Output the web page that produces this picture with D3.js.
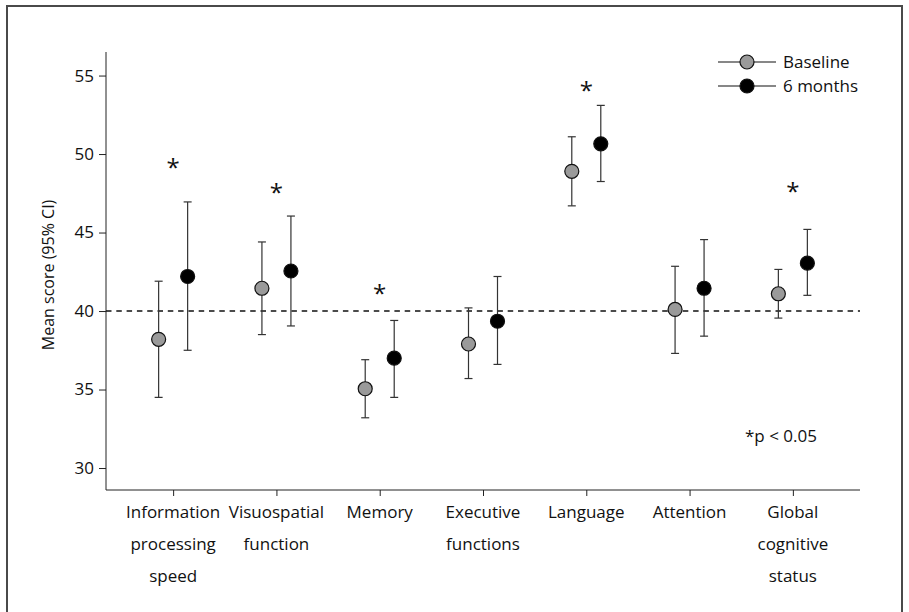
<!DOCTYPE html>
<html>
<head>
<meta charset="utf-8">
<script src="https://cdn.jsdelivr.net/npm/d3@7"></script>
<style>
  body { margin: 0; background: #fff; }
  text { font-family: "Open Sans", "Noto Sans", sans-serif; fill: #111; }
</style>
</head>
<body>
<div id="chart"></div>
<script>
// categories (x axis), each label split in lines
const categories = ["Information processing speed", "Visuospatial function", "Memory",
  "Executive functions", "Language", "Attention", "Global cognitive status"];
const labelLines = [["Information", "processing", "speed"], ["Visuospatial", "function"], ["Memory"],
  ["Executive", "functions"], ["Language"], ["Attention"], ["Global", "cognitive", "status"]];

// mean scores and 95% CI
const baselineMean = [38.2, 41.45, 35.05, 37.9, 48.9, 40.1, 41.1];
const baselineLow  = [34.5, 38.5, 33.2, 35.7, 46.7, 37.3, 39.55];
const baselineHigh = [41.9, 44.4, 36.9, 40.2, 51.1, 42.85, 42.65];
const monthsMean = [42.2, 42.55, 37.0, 39.35, 50.65, 41.45, 43.05];
const monthsLow  = [37.5, 39.05, 34.5, 36.6, 48.25, 38.4, 41.0];
const monthsHigh = [46.95, 46.05, 39.4, 42.2, 53.1, 44.55, 45.2];

// significance markers (y position of the asterisk in score units)
const signif = [true, true, true, false, true, false, true];
const starY = [49.3, 47.7, 41.3, 0, 54.2, 0, 47.8];

const yTicks = [30, 35, 40, 45, 50, 55];
const refLine = 40;

const width = 909, height = 612;
const margin = { top: 52, right: 49, bottom: 122, left: 106 };
const innerW = width - margin.left - margin.right;
const innerH = height - margin.top - margin.bottom;

const svg = d3.select("#chart").append("svg")
  .attr("width", width).attr("height", height);

// outer frame
svg.append("rect")
  .attr("x", 7).attr("y", 6).attr("width", 895).attr("height", 620)
  .attr("fill", "none").attr("stroke", "#4a4a4a").attr("stroke-width", 2);

const g = svg.append("g").attr("transform", `translate(${margin.left},${margin.top})`);

const x = d3.scalePoint().domain(categories).range([0, innerW]).padding(0.65);
const y = d3.scaleLinear().domain([28.6, 56.5]).range([innerH, 0]);
const off = 14.5;

// y axis
const yAxis = g.append("g")
  .call(d3.axisLeft(y).tickValues(yTicks).tickSize(7).tickPadding(5).tickFormat(d3.format("d")));
yAxis.select(".domain").attr("stroke", "#222").attr("d", `M0,0V${innerH}`);
yAxis.selectAll(".tick line").attr("stroke", "#222");
yAxis.selectAll(".tick text").style("font-size", "17px").attr("fill", "#111")
  .style("font-family", '"Open Sans", sans-serif');

// x axis
const xAxis = g.append("g").attr("transform", `translate(0,${innerH})`)
  .call(d3.axisBottom(x).tickSize(6).tickFormat(""));
xAxis.select(".domain").attr("stroke", "#222").attr("d", `M0,0H${innerW}`);
xAxis.selectAll(".tick line").attr("stroke", "#222");

const labels = g.append("g");
categories.forEach((c, i) => {
  const t = labels.append("text")
    .attr("x", x(c)).attr("y", innerH + 28)
    .attr("text-anchor", "middle")
    .style("font-size", "17px");
  labelLines[i].forEach((line, j) => {
    t.append("tspan").attr("x", x(c)).attr("dy", j === 0 ? 0 : 32).text(line);
  });
});

// y axis title
svg.append("text")
  .attr("transform", `translate(54,${margin.top + y(42.3)}) rotate(-90)`)
  .attr("text-anchor", "middle")
  .style("font-size", "16px")
  .text("Mean score (95% CI)");

// reference dashed line
g.append("line")
  .attr("x1", 0).attr("x2", innerW)
  .attr("y1", y(refLine)).attr("y2", y(refLine))
  .attr("stroke", "#111").attr("stroke-width", 1.4)
  .attr("stroke-dasharray", "5.5,4.8");

// error bars + dots
function drawSeries(mean, low, high, dx, fill) {
  const s = g.append("g");
  const cap = 4;
  categories.forEach((c, i) => {
    const cx = x(c) + dx;
    s.append("line").attr("x1", cx).attr("x2", cx)
      .attr("y1", y(low[i])).attr("y2", y(high[i]))
      .attr("stroke", "#333").attr("stroke-width", 1.2);
    [low[i], high[i]].forEach(v => {
      s.append("line").attr("x1", cx - cap).attr("x2", cx + cap)
        .attr("y1", y(v)).attr("y2", y(v))
        .attr("stroke", "#333").attr("stroke-width", 1.2);
    });
  });
  s.selectAll("circle").data(mean).enter().append("circle")
    .attr("cx", (d, i) => x(categories[i]) + dx)
    .attr("cy", d => y(d))
    .attr("r", 7)
    .attr("fill", fill)
    .attr("stroke", "#111").attr("stroke-width", 1.2);
}
drawSeries(baselineMean, baselineLow, baselineHigh, -off, "#9a9a9a");
drawSeries(monthsMean, monthsLow, monthsHigh, off, "#000");

// asterisks
categories.forEach((c, i) => {
  if (!signif[i]) return;
  g.append("text")
    .attr("x", x(c)).attr("y", y(starY[i]) + 11)
    .attr("text-anchor", "middle")
    .style("font-size", "24px")
    .text("*");
});

g.append("text")
  .attr("x", 745 - margin.left).attr("y", 442 - margin.top)
  .style("font-size", "17px")
  .text("*p < 0.05");

// legend
const legend = svg.append("g");
const legendItems = [["Baseline", "#9a9a9a"], ["6 months", "#000"]];
legendItems.forEach((item, i) => {
  const ly = 62 + i * 24;
  legend.append("line").attr("x1", 718).attr("x2", 776).attr("y1", ly).attr("y2", ly)
    .attr("stroke", "#111").attr("stroke-width", 1.2);
  legend.append("circle").attr("cx", 747).attr("cy", ly).attr("r", 7)
    .attr("fill", item[1]).attr("stroke", "#111").attr("stroke-width", 1.2);
  legend.append("text").attr("x", 783).attr("y", ly + 6)
    .style("font-size", "17px").text(item[0]);
});
</script>
</body>
</html>
